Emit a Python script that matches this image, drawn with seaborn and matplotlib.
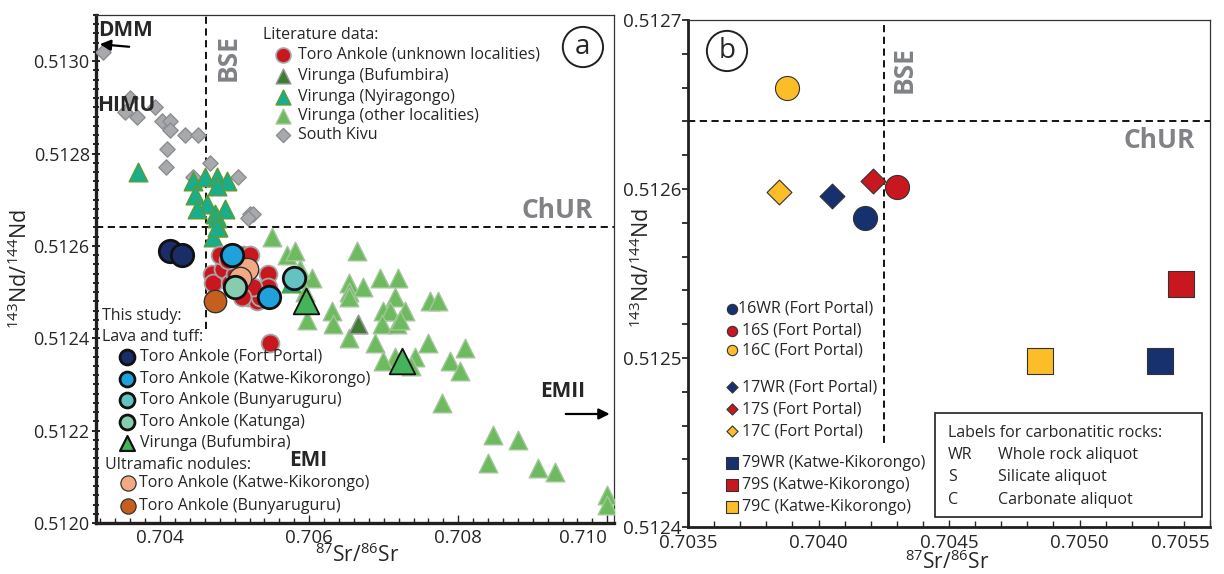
import numpy as np
import pandas as pd
import matplotlib.pyplot as plt
import seaborn as sns
from matplotlib.ticker import MultipleLocator, FormatStrFormatter
from matplotlib.patches import Rectangle

# ---- panel (a) data : 87Sr/86Sr (x) and 143Nd/144Nd (y) ----
# literature data
kivu_x = [0.70324, 0.70360, 0.70353, 0.70369, 0.70393, 0.70403, 0.70413, 0.70413, 0.70434,
          0.70451, 0.70409, 0.70408, 0.70467, 0.70444, 0.70505, 0.70521, 0.70525, 0.70518]
kivu_y = [0.51302, 0.51292, 0.51289, 0.51288, 0.51290, 0.51287, 0.51287, 0.51285, 0.51284,
          0.51284, 0.51281, 0.51277, 0.51278, 0.51275, 0.51275, 0.51267, 0.51267, 0.51266]

nyira_x = [0.70371, 0.70444, 0.70460, 0.70477, 0.70490, 0.70447, 0.70477, 0.70463, 0.70450,
           0.70474, 0.70487, 0.70477, 0.70478, 0.70471, 0.70477, 0.70575]
nyira_y = [0.51276, 0.51274, 0.51275, 0.51275, 0.51274, 0.51271, 0.51273, 0.51269, 0.51268,
           0.51267, 0.51268, 0.51266, 0.51264, 0.51262, 0.51264, 0.51252]

virunga_x = [0.70550, 0.70570, 0.70581, 0.70604, 0.70588, 0.70595, 0.70597, 0.70631, 0.70632,
             0.70654, 0.70654, 0.70654, 0.70664, 0.70672, 0.70695, 0.70719, 0.70715, 0.70762,
             0.70773, 0.70699, 0.70709, 0.70729, 0.70698, 0.70718, 0.70722, 0.70654, 0.70689,
             0.70760, 0.70809, 0.70715, 0.70699, 0.70742, 0.70789, 0.70803, 0.70736, 0.70778,
             0.70846, 0.70880, 0.70840, 0.70907, 0.70930, 0.71000, 0.71000]
virunga_y = [0.51262, 0.51258, 0.51259, 0.51253, 0.51255, 0.51250, 0.51244, 0.51246, 0.51243,
             0.51252, 0.51250, 0.51249, 0.51259, 0.51251, 0.51253, 0.51253, 0.51249, 0.51248,
             0.51248, 0.51246, 0.51246, 0.51246, 0.51243, 0.51243, 0.51244, 0.51240, 0.51239,
             0.51239, 0.51238, 0.51236, 0.51235, 0.51236, 0.51235, 0.51233, 0.51234, 0.51226,
             0.51219, 0.51218, 0.51213, 0.51212, 0.51211, 0.51206, 0.51204]

bufu_lit_x = [0.70666]
bufu_lit_y = [0.51243]

toro_lit_x = [0.70470, 0.70471, 0.70485, 0.70481, 0.70511, 0.70521, 0.70545, 0.70545, 0.70518,
              0.70530, 0.70534, 0.70524, 0.70494, 0.70501, 0.70548, 0.70510, 0.70491]
toro_lit_y = [0.51254, 0.51252, 0.51255, 0.51258, 0.51258, 0.51258, 0.51254, 0.51251, 0.51249,
              0.51248, 0.51249, 0.51251, 0.51252, 0.51254, 0.51239, 0.51249, 0.51257]

# this study
fort_x, fort_y = [0.70413, 0.70430], [0.51259, 0.51258]
katwe_x, katwe_y = [0.70497, 0.70546], [0.51258, 0.51249]
bunya_x, bunya_y = [0.70579], [0.51253]
katunga_x, katunga_y = [0.70501], [0.51251]
bufu_x, bufu_y = [0.70596, 0.70725], [0.51248, 0.51235]
um_katwe_x, um_katwe_y = [0.70517, 0.70507], [0.51255, 0.51253]
um_bunya_x, um_bunya_y = [0.70474], [0.51248]

# ---- panel (b) data ----
b_samples = ['16WR', '16S', '16C', '17WR', '17S', '17C', '79WR', '79S', '79C']
b_x = [0.70418, 0.70430, 0.70388, 0.70405, 0.70421, 0.70385, 0.70531, 0.70539, 0.70485]
b_y = [0.512583, 0.512601, 0.512660, 0.512596, 0.512605, 0.512598, 0.512498, 0.512544, 0.512498]
b_locality = ['Fort Portal'] * 6 + ['Katwe-Kikorongo'] * 3

a_xticks = [0.704, 0.706, 0.708, 0.710]
b_xticks = [0.7035, 0.7040, 0.7045, 0.7050, 0.7055]

BSE_A, BSE_B, CHUR = 0.70461, 0.70425, 0.51264

sns.set_style("ticks")
plt.rcParams['font.family'] = ['Open Sans', 'DejaVu Sans']
plt.rcParams['mathtext.fontset'] = 'custom'
plt.rcParams['mathtext.rm'] = 'Open Sans'
plt.rcParams['mathtext.default'] = 'regular'

GREY_TXT = '#808285'
NAVY, RED, YELLOW = '#17306e', '#c8171e', '#fbbd28'

fig = plt.figure(figsize=(12.24, 5.74), dpi=100)
ax_a = fig.add_axes([96 / 1224, 1 - 523 / 574, 518 / 1224, 508 / 574])
ax_b = fig.add_axes([688 / 1224, 1 - 527 / 574, 522 / 1224, 507 / 574])

# ================= panel a =================
ax = ax_a
ax.axvline(BSE_A, ymin=(0.51242 - 0.5120) / 0.0011, ymax=1, color='k', lw=1.3, dashes=(4, 2.5), zorder=1)
ax.axhline(CHUR, color='k', lw=1.3, dashes=(4, 2.5), zorder=1)

lit = [
    (kivu_x, kivu_y, 'D', 60, '#a7a9ac', '#8b8d90', 1.0),
    (virunga_x, virunga_y, '^', 180, '#6dbb5e', '#a3c59b', 1.0),
    (nyira_x, nyira_y, '^', 180, '#18ad8b', '#5d9a35', 1.0),
    (bufu_lit_x, bufu_lit_y, '^', 180, '#3e7c33', '#999999', 1.2),
    (toro_lit_x, toro_lit_y, 'o', 165, RED, '#a6a6a6', 1.3),
]
for xs, ys, m, s, fc, ec, lw in lit:
    sns.scatterplot(x=xs, y=ys, ax=ax, marker=m, s=s, color=fc, edgecolor=ec,
                    linewidth=lw, legend=False, zorder=3)

study = [
    (um_bunya_x, um_bunya_y, 'o', 260, '#c55f1d', '#333333', 1.0),
    (um_katwe_x, um_katwe_y, 'o', 260, '#f1aa84', '#333333', 1.0),
    (fort_x, fort_y, 'o', 260, '#1b2d68', '#111111', 2.0),
    (katunga_x, katunga_y, 'o', 260, '#86cdb0', '#111111', 2.0),
    (katwe_x, katwe_y, 'o', 260, '#1fa2dc', '#111111', 2.0),
    (bunya_x, bunya_y, 'o', 260, '#63c3c0', '#111111', 2.0),
    (bufu_x, bufu_y, '^', 340, '#45b35a', '#111111', 1.3),
]
for xs, ys, m, s, fc, ec, lw in study:
    sns.scatterplot(x=xs, y=ys, ax=ax, marker=m, s=s, color=fc, edgecolor=ec,
                    linewidth=lw, legend=False, zorder=4)

ax.set_xlim(0.70314, 0.71009)
ax.set_ylim(0.5120, 0.5131)
ax.set_xticks(a_xticks, [f'{t:.3f}' for t in a_xticks])
ax.xaxis.set_minor_locator(MultipleLocator(0.0002))
ax.yaxis.set_major_locator(MultipleLocator(0.0002))
ax.yaxis.set_minor_locator(MultipleLocator(0.00002))
ax.yaxis.set_major_formatter(FormatStrFormatter('%.4f'))
ax.tick_params(axis='y', which='major', direction='inout', length=6, width=1.4, labelsize=13, pad=1.5)
ax.tick_params(axis='y', which='minor', direction='inout', length=4.5, width=1.4)
ax.tick_params(axis='x', which='major', direction='in', length=6, width=1.0, labelsize=13.5, pad=4)
ax.tick_params(axis='x', which='minor', direction='in', length=3.5, width=1.0)
for side in ['left', 'bottom']:
    ax.spines[side].set_linewidth(2.4)
    ax.spines[side].set_color('#231f20')
for side in ['top', 'right']:
    ax.spines[side].set_linewidth(0.9)
    ax.spines[side].set_color('#333333')

ax.set_xlabel(r'$^{87}$Sr/$^{86}$Sr', fontsize=15)
ax.set_ylabel(r'$^{143}$Nd/$^{144}$Nd', fontsize=15.5)
ax.xaxis.set_label_coords(0.505, -0.04)
ax.yaxis.set_label_coords(-0.124, 0.5)

T = ax.transAxes
ax.text(0.004, 0.970, 'DMM', transform=T, fontsize=15, fontweight='bold', ha='left', va='center')
ax.annotate('', xy=(0.002, 0.943), xytext=(0.0695, 0.937), xycoords=T, textcoords=T,
            arrowprops=dict(arrowstyle='-|>', color='k', lw=1.6, mutation_scale=16))
ax.text(0.002, 0.821, 'HIMU', transform=T, fontsize=15, fontweight='bold', ha='left', va='center')
ax.text(0.2548, 0.9154, 'BSE', transform=T, fontsize=19, fontweight='bold', color=GREY_TXT,
        rotation=90, ha='center', va='center')
ax.text(0.890, 0.616, 'ChUR', transform=T, fontsize=19, fontweight='bold', color=GREY_TXT,
        ha='center', va='center')
ax.text(0.9015, 0.258, 'EMII', transform=T, fontsize=15, fontweight='bold', ha='center', va='center')
ax.annotate('', xy=(0.997, 0.2146), xytext=(0.9015, 0.2146), xycoords=T, textcoords=T,
            arrowprops=dict(arrowstyle='-|>', color='k', lw=1.6, mutation_scale=16))
ax.text(0.409, 0.124, 'EMI', transform=T, fontsize=15, fontweight='bold', ha='center', va='center')
ax.text(0.940, 0.937, 'a', transform=T, fontsize=20, ha='center', va='center',
        bbox=dict(boxstyle='circle,pad=0.22', fc='white', ec='#231f20', lw=1.4))


def key(ax, fx, fy, tx, label, marker, s, fc, ec, lw, size=11.5):
    ax.scatter([fx], [fy], transform=ax.transAxes, clip_on=False, marker=marker, s=s,
               c=fc, edgecolors=ec, linewidths=lw, zorder=6)
    ax.text(tx, fy, label, transform=ax.transAxes, fontsize=size, ha='left', va='center')


ax.text(0.3224, 0.9606, 'Literature data:', transform=T, fontsize=11.5, ha='left', va='center')
lit_keys = [
    ('Toro Ankole (unknown localities)', 'o', 115, RED, '#a6a6a6', 1.2),
    ('Virunga (Bufumbira)', '^', 115, '#3e7c33', '#999999', 1.0),
    ('Virunga (Nyiragongo)', '^', 115, '#18ad8b', '#5d9a35', 1.0),
    ('Virunga (other localities)', '^', 115, '#6dbb5e', '#a3c59b', 1.0),
    ('South Kivu', 'D', 52, '#a7a9ac', '#8b8d90', 1.0),
]
for fy, (lab, m, s, fc, ec, lw) in zip([0.9213, 0.8799, 0.8386, 0.8012, 0.7638], lit_keys):
    key(ax, 0.361, fy, 0.390, lab, m, s, fc, ec, lw)

ax.text(0.0116, 0.4075, 'This study:', transform=T, fontsize=11.5, ha='left', va='center')
ax.text(0.0116, 0.3661, 'Lava and tuff:', transform=T, fontsize=11.5, ha='left', va='center')
study_keys = [
    ('Toro Ankole (Fort Portal)', 'o', 115, '#1b2d68', '#111111', 2.0),
    ('Toro Ankole (Katwe-Kikorongo)', 'o', 115, '#1fa2dc', '#111111', 2.0),
    ('Toro Ankole (Bunyaruguru)', 'o', 115, '#63c3c0', '#111111', 2.0),
    ('Toro Ankole (Katunga)', 'o', 115, '#86cdb0', '#111111', 2.0),
    ('Virunga (Bufumbira)', '^', 115, '#45b35a', '#111111', 1.6),
]
for fy, (lab, m, s, fc, ec, lw) in zip([0.3268, 0.2835, 0.2421, 0.1988, 0.1575], study_keys):
    key(ax, 0.0598, fy, 0.0849, lab, m, s, fc, ec, lw)
ax.text(0.0174, 0.1142, 'Ultramafic nodules:', transform=T, fontsize=11.5, ha='left', va='center')
key(ax, 0.0618, 0.0787, 0.083, 'Toro Ankole (Katwe-Kikorongo)', 'o', 120, '#f1aa84', '#333333', 0.9)
key(ax, 0.0618, 0.0335, 0.083, 'Toro Ankole (Bunyaruguru)', 'o', 120, '#c55f1d', '#333333', 0.9)

# ================= panel b =================
ax = ax_b
ax.axvline(BSE_B, ymin=(0.51245 - 0.5124) / 0.0003, ymax=1, color='k', lw=1.3, dashes=(4, 2.5), zorder=1)
ax.axhline(CHUR, color='k', lw=1.3, dashes=(4, 2.5), zorder=1)

frac_color = {'WR': NAVY, 'S': RED, 'C': YELLOW}
rock_marker = {'16': ('o', 300), '17': ('D', 160), '79': ('s', 340)}
df_b = pd.DataFrame({'sample': b_samples, 'x': b_x, 'y': b_y, 'loc': b_locality})
df_b['rock'] = df_b['sample'].str[:2]
df_b['frac'] = df_b['sample'].str[2:]
for _, r in df_b.iterrows():
    m, s = rock_marker[r['rock']]
    sns.scatterplot(x=[r['x']], y=[r['y']], ax=ax, marker=m, s=s, color=frac_color[r['frac']],
                    edgecolor='#333333', linewidth=0.8, legend=False, zorder=4)

ax.set_xlim(0.7035, 0.7055)
ax.set_ylim(0.5124, 0.5127)
ax.set_xticks(b_xticks, [f'{t:.4f}' for t in b_xticks])
ax.xaxis.set_minor_locator(MultipleLocator(0.0001))
ax.yaxis.set_major_locator(MultipleLocator(0.0001))
ax.yaxis.set_minor_locator(MultipleLocator(0.00002))
ax.yaxis.set_major_formatter(FormatStrFormatter('%.4f'))
ax.tick_params(axis='y', which='both', direction='out', length=4, width=1.3, labelsize=13.5, pad=1)
ax.tick_params(axis='x', which='major', direction='in', length=5, width=1.0, labelsize=13.5, pad=5)
ax.tick_params(axis='x', which='minor', direction='in', length=4, width=1.0)
for side in ['left', 'bottom']:
    ax.spines[side].set_linewidth(2.0)
    ax.spines[side].set_color('#231f20')
for side in ['top', 'right']:
    ax.spines[side].set_linewidth(0.9)
    ax.spines[side].set_color('#333333')

ax.set_xlabel(r'$^{87}$Sr/$^{86}$Sr', fontsize=15)
ax.set_ylabel(r'$^{143}$Nd/$^{144}$Nd', fontsize=15.5)
ax.xaxis.set_label_coords(0.496, -0.046)
ax.yaxis.set_label_coords(-0.065, 0.51)

T = ax.transAxes
ax.text(0.0747, 0.9389, 'b', transform=T, fontsize=20, ha='center', va='center',
        bbox=dict(boxstyle='circle,pad=0.22', fc='white', ec='#231f20', lw=1.4))
ax.text(0.4138, 0.9014, 'BSE', transform=T, fontsize=19, fontweight='bold', color=GREY_TXT,
        rotation=90, ha='center', va='center')
ax.text(0.902, 0.763, 'ChUR', transform=T, fontsize=19, fontweight='bold', color=GREY_TXT,
        ha='center', va='center')

key_y = [0.4300, 0.3866, 0.3491, 0.2761, 0.2327, 0.1893, 0.1262, 0.0828, 0.0394]
key_size = {'16': 55, '17': 32, '79': 65}
for fy, (_, r) in zip(key_y, df_b.iterrows()):
    m, _s = rock_marker[r['rock']]
    tx = 0.0958 if r['sample'] == '16WR' else 0.1034
    key(ax, 0.0843, fy, tx, f"{r['sample']} ({r['loc']})", m, key_size[r['rock']],
        frac_color[r['frac']], '#333333', 0.8)

ax.add_patch(Rectangle((0.4732, 0.0197), 0.5115, 0.2052, transform=T, fc='white',
                       ec='#231f20', lw=1.2, zorder=5))
ax.text(0.498, 0.1854, 'Labels for carbonatitic rocks:', transform=T, fontsize=11.5,
        ha='left', va='center', zorder=6)
for fy, abbr, desc in [(0.142, 'WR', 'Whole rock aliquot'), (0.0986, 'S', 'Silicate aliquot'),
                       (0.0533, 'C', 'Carbonate aliquot')]:
    ax.text(0.498, fy, abbr, transform=T, fontsize=11.5, ha='left', va='center', zorder=6)
    ax.text(0.5939, fy, desc, transform=T, fontsize=11.5, ha='left', va='center', zorder=6)

# keep the last x tick labels inside the figure, as in the original
ax_a.get_xticklabels()[-1].set_ha('right')
ax_b.get_xticklabels()[-1].set_ha('right')

fig.savefig('out.png', dpi=100)
